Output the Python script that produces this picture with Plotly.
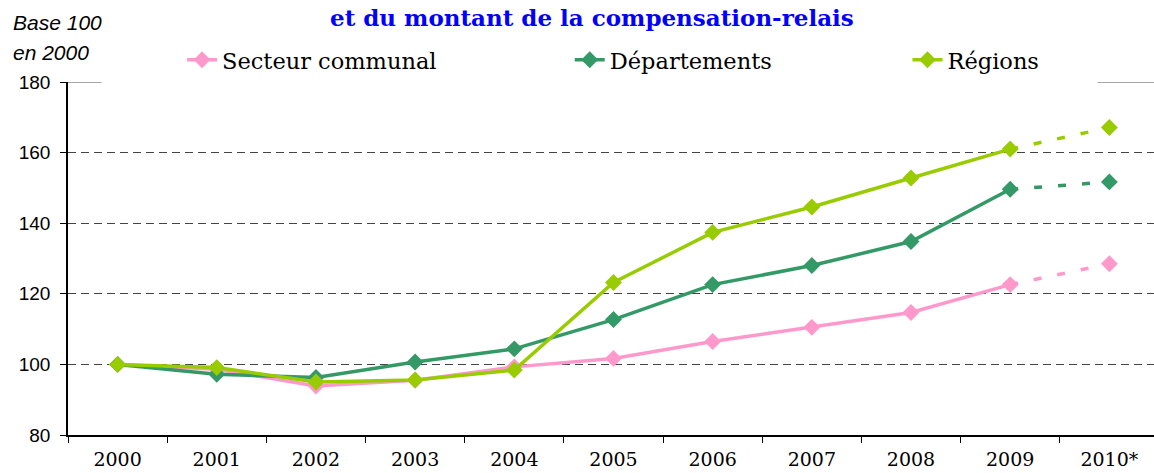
import plotly.graph_objects as go

years = ["2000", "2001", "2002", "2003", "2004", "2005", "2006", "2007", "2008", "2009", "2010*"]
secteur = [100, 98.6, 93.9, 95.5, 99.3, 101.7, 106.5, 110.5, 114.7, 122.6, 128.5]
departements = [100, 97.2, 96.3, 100.7, 104.4, 112.7, 122.6, 128.0, 134.8, 149.6, 151.7]
regions = [100, 99.1, 95.0, 95.6, 98.4, 123.2, 137.4, 144.6, 152.8, 161.0, 167.1]

names = ["Secteur communal", "Départements", "Régions"]
colors = ["#FF99CC", "#339966", "#99CC00"]
series = [secteur, departements, regions]
legends = ["legend", "legend2", "legend3"]

fig = go.Figure()
for name, col, vals, lg in zip(names, colors, series, legends):
    fig.add_trace(go.Scatter(
        x=years[:-1], y=vals[:-1], mode="lines+markers", name=name,
        line=dict(color=col, width=3.5),
        marker=dict(symbol="diamond", size=13, color=col),
        legend=lg, showlegend=True))
    fig.add_trace(go.Scatter(
        x=years[-2:], y=vals[-2:], mode="lines", name=name,
        line=dict(color=col, width=3.5, dash="8px,16px"),
        legend=lg, showlegend=False))
    fig.add_trace(go.Scatter(
        x=years[-1:], y=vals[-1:], mode="markers", name=name,
        marker=dict(symbol="diamond", size=13, color=col),
        legend=lg, showlegend=False))

legend_font = dict(family="DejaVu Serif", size=22.5, color="#000")
leg_common = dict(orientation="h", yanchor="middle", xanchor="left", y=1.062,
                  bgcolor="rgba(0,0,0,0)", font=legend_font)

fig.update_layout(
    width=1154, height=473,
    margin=dict(l=68, r=0, t=82, b=38, autoexpand=False),
    paper_bgcolor="white", plot_bgcolor="white",
    legend=dict(x=0.105, **leg_common),
    legend2=dict(x=0.462, **leg_common),
    legend3=dict(x=0.773, **leg_common),
    xaxis=dict(
        type="category", range=[-0.5, 10.45], tickson="boundaries",
        showgrid=False, showline=True, linecolor="#000", linewidth=1.5,
        ticks="outside", ticklen=6, tickcolor="#000",
        tickfont=dict(family="DejaVu Serif", size=19, color="#000"),
        automargin=False, ticklabelstandoff=6),
    yaxis=dict(
        range=[80, 180], tickvals=[80, 100, 120, 140, 160, 180],
        showgrid=True, gridcolor="#444", griddash="8px,5px", gridwidth=1,
        showline=True, linecolor="#000", linewidth=1.5,
        ticks="outside", ticklen=6, tickcolor="#000",
        tickfont=dict(family="Liberation Sans", size=19, color="#000"),
        automargin=False, zeroline=False, ticklabelstandoff=6),
    showlegend=True,
)

# top border line at 180, partially covered by the legend in the original
for x0, x1 in [(0, 0.031), (0.948, 1.0)]:
    fig.add_shape(type="line", xref="paper", yref="y", x0=x0, x1=x1, y0=180, y1=180,
                  line=dict(color="#888", width=1.5))

fig.add_annotation(text="et du montant de la compensation-relais", xref="paper", yref="paper",
                   x=(592 - 68) / 1086, y=(435 - 18) / 353, xanchor="center", yanchor="middle",
                   showarrow=False, font=dict(family="DejaVu Serif", size=23, color="#0000FF", weight="bold"))
fig.add_annotation(text="<i>Base 100</i>", xref="paper", yref="paper",
                   x=-57 / 1086, y=(435 - 22) / 353, xanchor="left", yanchor="middle",
                   showarrow=False, font=dict(family="Liberation Sans", size=21, color="#000"))
fig.add_annotation(text="<i>en 2000</i>", xref="paper", yref="paper",
                   x=-57 / 1086, y=(435 - 52) / 353, xanchor="left", yanchor="middle",
                   showarrow=False, font=dict(family="Liberation Sans", size=21, color="#000"))

fig.write_html("out.html", config={"displayModeBar": False},
               post_script="document.body.style.margin='0';")
